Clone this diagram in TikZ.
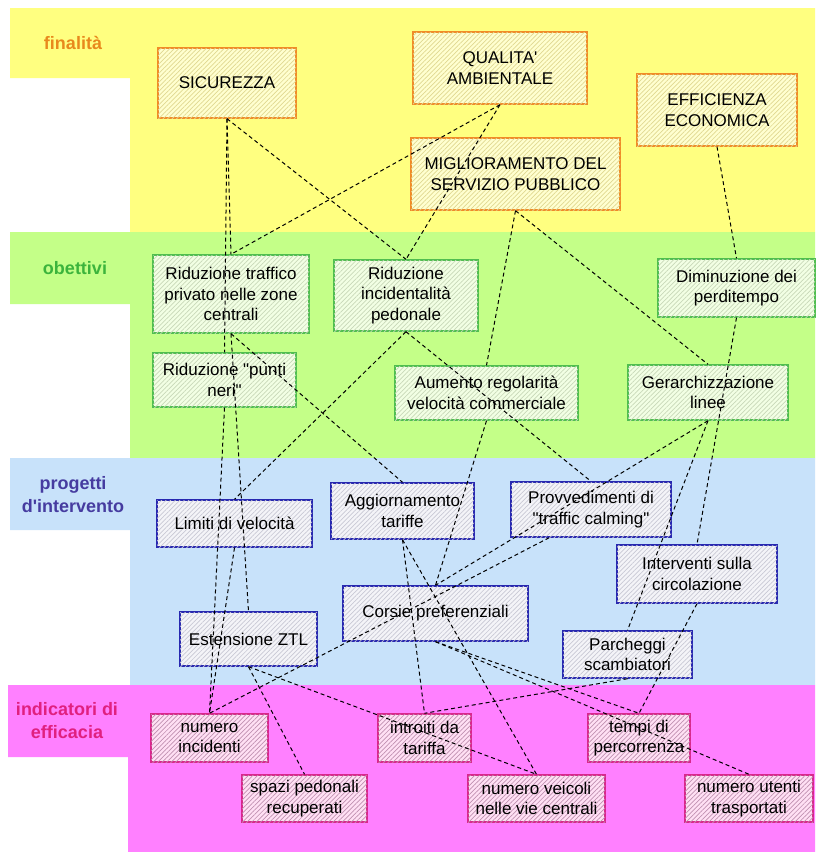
\documentclass[tikz,border=0pt]{standalone}
\usepackage{fontspec}
\setmainfont{Liberation Sans}
\usetikzlibrary{patterns.meta}

\definecolor{yband}{HTML}{FFFF80}
\definecolor{gband}{HTML}{C4FF88}
\definecolor{bband}{HTML}{C8E2FA}
\definecolor{pband}{HTML}{FF80FF}
\definecolor{finlab}{HTML}{E8891C}
\definecolor{obilab}{HTML}{3CB43C}
\definecolor{proglab}{HTML}{463CA0}
\definecolor{indlab}{HTML}{E0207F}
\definecolor{finline}{HTML}{F08C28}
\definecolor{obiline}{HTML}{50BE50}
\definecolor{progline}{HTML}{2828B0}
\definecolor{indline}{HTML}{D8288C}
\definecolor{finfill}{HTML}{FFFFD0}
\definecolor{finhatch}{HTML}{E0D890}
\definecolor{obifill}{HTML}{F2FFE4}
\definecolor{obihatch}{HTML}{C8D8B8}
\definecolor{progfill}{HTML}{F4F4F8}
\definecolor{proghatch}{HTML}{C8C8D4}
\definecolor{indfill}{HTML}{FFE0F4}
\definecolor{indhatch}{HTML}{C090B0}

\begin{document}
\begin{tikzpicture}[x=0.5pt,y=-0.5pt,
		font=\fontsize{8.5}{10.2}\selectfont,
		box/.style={draw, line width=0.7pt, align=center, inner sep=1pt},
		hatch/.style={postaction={pattern={Lines[angle=45,distance=1.6pt,line width=0.35pt]}, pattern color=#1}},
		fin/.style={box, draw=finline, fill=finfill, hatch=finhatch},
		obi/.style={box, draw=obiline, fill=obifill, hatch=obihatch},
		prog/.style={box, draw=progline, fill=progfill, hatch=proghatch},
		ind/.style={box, draw=indline, fill=indfill, hatch=indhatch},
		lab/.style={font=\fontsize{9}{11.5}\selectfont\bfseries, align=center},
		link/.style={draw=black, line width=0.5pt, dash pattern=on 2pt off 1.5pt}]
		
		% fondo e fasce
		\fill[white] (0,0) rectangle (815,852);
		\useasboundingbox (0,0) rectangle (815,852);
		\fill[yband] (10,8) -- (815,8) -- (815,232) -- (130,232) -- (130,78) -- (10,78) -- cycle;
		\fill[gband] (10,232) -- (815,232) -- (815,458) -- (130,458) -- (130,304) -- (10,304) -- cycle;
		\fill[bband] (10,458) -- (815,458) -- (815,685) -- (130,685) -- (130,530) -- (10,530) -- cycle;
		\fill[pband] (8,685) -- (815,685) -- (815,852) -- (128,852) -- (128,757) -- (8,757) -- cycle;
		
		\node[lab, text=finlab] (tfin) at (73,43) {finalità};
		\node[lab, text=obilab] (tobi) at (75,268) {obettivi};
		\node[lab, text=proglab] (tprog) at (73,495) {progetti\\d\textquotesingle intervento};
		\node[lab, text=indlab] (tind) at (67,721) {indicatori di\\efficacia};
		
		% finalita
		\node[fin, minimum width=69pt, minimum height=35pt] (sic) at (227,83) {SICUREZZA};
		\node[fin, minimum width=87pt, minimum height=36pt] (qual) at (500,68) {QUALITA\textquotesingle\\AMBIENTALE};
		\node[fin, minimum width=80pt, minimum height=36pt] (effic) at (717,110) {EFFICIENZA\\ECONOMICA};
		\node[fin, minimum width=104.5pt, minimum height=36pt] (migl) at (515.5,174) {MIGLIORAMENTO DEL\\SERVIZIO PUBBLICO};
		
		% obiettivi
		\node[obi, minimum width=78pt, minimum height=39pt] (ridtraff) at (231,294) {Riduzione traffico\\privato nelle zone\\centrali};
		\node[obi, minimum width=72pt, minimum height=35.5pt] (ridincid) at (406,295.5) {Riduzione\\incidentalità\\pedonale};
		\node[obi, minimum width=71.5pt, minimum height=27pt] (puntineri) at (224.5,380) {Riduzione \textquotedbl punti\\neri\textquotedbl};
		\node[obi, minimum width=91.5pt, minimum height=27pt] (aumento) at (486.5,393) {Aumento regolarità\\velocità commerciale};
		\node[obi, minimum width=78.5pt, minimum height=29pt] (dimin) at (736.5,288) {Diminuzione dei\\perditempo};
		\node[obi, minimum width=80pt, minimum height=27.5pt] (gerarch) at (708,392.5) {Gerarchizzazione\\linee};
		
		% progetti
		\node[prog, minimum width=77.5pt, minimum height=23.5pt] (limiti) at (234.5,523.5) {Limiti di velocità};
		\node[prog, minimum width=71.5pt, minimum height=28pt] (aggiorn) at (402.5,511) {Aggiornamento\\tariffe};
		\node[prog, minimum width=80pt, minimum height=27.5pt] (provved) at (591,509.5) {Provvedimenti di\\\textquotedbl traffic calming\textquotedbl};
		\node[prog, minimum width=80pt, minimum height=29pt] (interventi) at (697,574) {Interventi sulla\\circolazione};
		\node[prog, minimum width=92.5pt, minimum height=27.5pt] (corsie) at (435.5,613.5) {Corsie preferenziali};
		\node[prog, minimum width=68.5pt, minimum height=27pt] (ztl) at (248.5,639) {Estensione ZTL};
		\node[prog, minimum width=64.5pt, minimum height=23.5pt] (parcheggi) at (627.5,654.5) {Parcheggi\\scambiatori};
		
		% indicatori
		\node[ind, minimum width=58.5pt, minimum height=24pt] (numinc) at (209.5,738) {numero\\incidenti};
		\node[ind, minimum width=62.5pt, minimum height=23.5pt] (spazi) at (304.5,798.5) {spazi pedonali\\recuperati};
		\node[ind, minimum width=46.5pt, minimum height=24pt] (introiti) at (424.5,738) {introiti da\\tariffa};
		\node[ind, minimum width=68.5pt, minimum height=23.5pt] (veicoli) at (536.5,798.5) {numero veicoli\\nelle vie centrali};
		\node[ind, minimum width=51pt, minimum height=24pt] (tempi) at (639,738) {tempi di\\percorrenza};
		\node[ind, minimum width=64pt, minimum height=23.5pt] (utenti) at (749,798.5) {numero utenti\\trasportati};
		
		% legami
		\path[link] (sic.south) edge (ridtraff.north)
			(sic.south) edge (puntineri.north)
			(sic.south) edge (ridincid.north)
			(qual.south) edge (ridtraff.north)
			(qual.south) edge (ridincid.north)
			(migl.south) edge (aumento.north)
			(migl.south) edge (gerarch.north)
			(effic.south) edge (dimin.north);
		\path[link] (ridtraff.south) edge (aggiorn.north)
			(ridtraff.south) edge (ztl.north)
			(ridincid.south) edge (limiti.north)
			(ridincid.south) edge (provved.north)
			(puntineri.south) edge (numinc.north)
			(aumento.south) edge (corsie.north)
			(gerarch.south) edge (corsie.north)
			(gerarch.south) edge (parcheggi.north)
			(dimin.south) edge (interventi.north);
		\path[link] (limiti.south) edge (numinc.north)
			(provved.214) edge (numinc.north)
			(ztl.south) edge (spazi.north)
			(ztl.south) edge (veicoli.north)
			(aggiorn.south) edge (introiti.north)
			(aggiorn.south) edge (veicoli.north)
			(corsie.south) edge (tempi.north)
			(corsie.south) edge (utenti.north)
			(interventi.south) edge (tempi.north)
			(parcheggi.south) edge (introiti.north);
\end{tikzpicture}
\end{document}
